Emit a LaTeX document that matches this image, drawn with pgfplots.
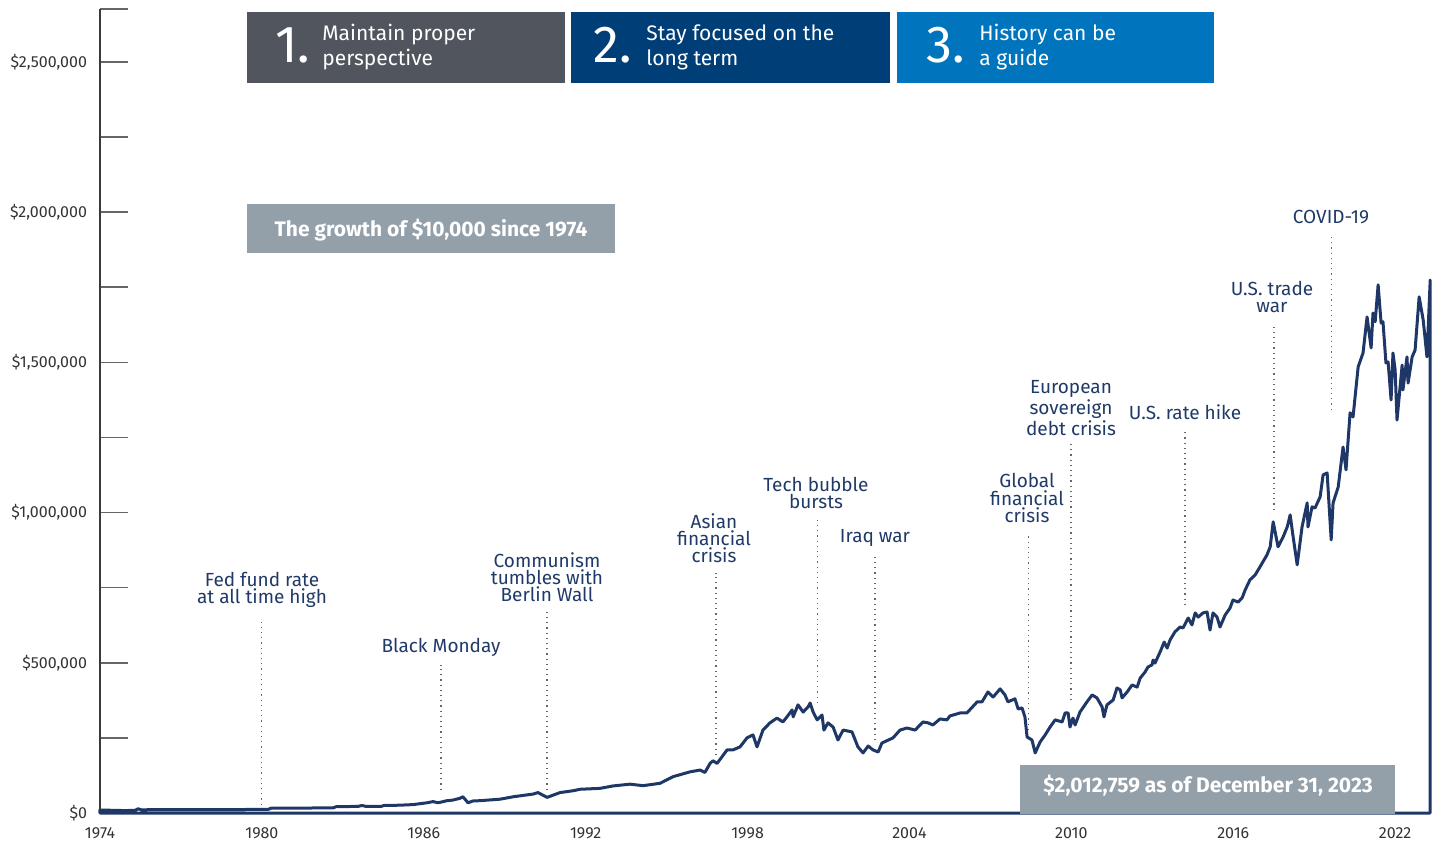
\documentclass[border=0pt]{standalone}
\usepackage{pgfplots}
\pgfplotsset{compat=1.18}
\usepackage{fontspec}
\setmainfont{Fira Sans}
\definecolor{navy}{HTML}{1E3767}
\definecolor{annot}{HTML}{1F3A68}
\definecolor{boxA}{HTML}{51555D}
\definecolor{boxB}{HTML}{003E78}
\definecolor{boxC}{HTML}{0074BC}
\definecolor{boxG}{HTML}{939FA9}
\definecolor{axgray}{HTML}{3A3A3A}
\definecolor{tickgray}{HTML}{666666}
\definecolor{labgray}{HTML}{333333}
\definecolor{dotgray}{HTML}{666666}
\begin{document}
\begin{tikzpicture}
\begin{scope}[x=0.5pt,y=-0.5pt]
\path[use as bounding box] (0,0) rectangle (1434,844);
\end{scope}
\begin{axis}[
  at={(50pt,-406.5pt)}, anchor=south west, scale only axis,
  width=665.5pt, height=402pt,
  xmin=1974, xmax=2023.33, ymin=0, ymax=2676000,
  clip=false,
  scaled y ticks=false, scaled x ticks=false,
  axis x line*=bottom, axis y line*=left,
  x axis line style={draw=none},
  y axis line style={draw=axgray, line width=1pt, -},
  tick align=inside,
  major tick length=14pt,
  ytick={0,250000,500000,750000,1000000,1250000,1500000,1750000,2000000,2250000,2500000,2676000},
  yticklabels={{\$0},{},{\$500,000},{},{\$1,000,000},{},{\$1,500,000},{},{\$2,000,000},{},{\$2,500,000},{}},
  ytick style={draw=tickgray, line width=0.75pt},
  yticklabel style={font=\fontsize{8}{9}\selectfont, text=labgray, xshift=-3pt},
  xtick={1974,1980,1986,1992,1998,2004,2010,2016,2022},
  xticklabels={1974,1980,1986,1992,1998,2004,2010,2016,2022},
  xtick style={draw=none},
  xticklabel style={font=\fontsize{8}{9}\selectfont, text=labgray, yshift=-4pt},
]
\addplot[navy, line width=1.5pt, line join=round, mark=none] coordinates {
(1974.00,10000) (1974.93,8000) (1975.30,9000) (1975.41,14000) (1975.56,10000)
(1975.78,11000) (1977.70,11000) (1980.23,12000) (1980.34,16000) (1982.64,17000)
(1982.75,21000) (1983.56,22000) (1983.71,25000) (1983.86,22000) (1984.42,22000)
(1984.53,25000) (1985.12,26000) (1985.60,28000) (1986.12,34000) (1986.34,38000)
(1986.53,34000) (1986.86,41000) (1987.08,43000) (1987.34,49000) (1987.45,54000)
(1987.64,34000) (1987.82,40000) (1988.08,41000) (1988.83,46000) (1989.31,54000)
(1990.05,63000) (1990.23,68000) (1990.57,52000) (1991.05,68000) (1991.53,74000)
(1991.79,79000) (1992.53,82000) (1993.01,90000) (1993.64,96000) (1994.13,91000)
(1994.76,99000) (1995.24,121000) (1995.87,137000) (1996.24,143000) (1996.42,135000)
(1996.61,165000) (1996.72,174000) (1996.87,165000) (1997.24,210000) (1997.46,210000)
(1997.72,220000) (1997.98,250000) (1998.20,260000) (1998.35,220000) (1998.57,276000)
(1998.83,300000) (1999.09,316000) (1999.31,303000) (1999.46,320000) (1999.65,343000)
(1999.69,320000) (1999.87,360000) (2000.06,336000) (2000.24,353000) (2000.32,366000)
(2000.43,336000) (2000.58,310000) (2000.76,326000) (2000.83,276000) (2000.98,300000)
(2001.17,286000) (2001.35,243000) (2001.54,276000) (2001.87,270000) (2002.09,220000)
(2002.28,200000) (2002.47,223000) (2002.65,210000) (2002.84,203000) (2002.98,233000)
(2003.39,250000) (2003.65,276000) (2003.91,283000) (2004.21,276000) (2004.50,303000)
(2004.69,300000) (2004.87,293000) (2005.13,313000) (2005.39,310000) (2005.50,323000)
(2005.88,333000) (2006.13,333000) (2006.51,370000) (2006.69,370000) (2006.91,403000)
(2007.10,386000) (2007.36,413000) (2007.54,393000) (2007.65,370000) (2007.91,380000)
(2008.03,346000) (2008.17,350000) (2008.28,320000) (2008.36,253000) (2008.54,243000)
(2008.66,200000) (2008.84,236000) (2009.03,260000) (2009.21,286000) (2009.40,310000)
(2009.66,303000) (2009.77,333000) (2009.88,333000) (2009.95,286000) (2010.06,316000)
(2010.14,293000) (2010.32,336000) (2010.58,370000) (2010.77,393000) (2010.95,383000)
(2011.14,353000) (2011.21,320000) (2011.32,360000) (2011.55,376000) (2011.69,416000)
(2011.81,410000) (2011.88,383000) (2012.07,403000) (2012.25,426000) (2012.44,419000)
(2012.55,449000) (2012.73,469000) (2012.84,486000) (2012.99,493000) (2013.03,509000)
(2013.10,499000) (2013.29,536000) (2013.44,569000) (2013.55,549000) (2013.66,576000)
(2013.84,603000) (2014.03,619000) (2014.14,616000) (2014.33,649000) (2014.47,626000)
(2014.59,666000) (2014.70,652000) (2014.88,666000) (2015.03,669000) (2015.14,609000)
(2015.25,666000) (2015.40,652000) (2015.51,619000) (2015.70,659000) (2015.88,682000)
(2015.99,709000) (2016.18,702000) (2016.33,716000) (2016.44,742000) (2016.62,776000)
(2016.81,792000) (2016.99,819000) (2017.25,859000) (2017.37,886000) (2017.48,969000)
(2017.66,886000) (2017.85,919000) (2018.00,952000) (2018.11,992000) (2018.22,919000)
(2018.37,826000) (2018.55,952000) (2018.74,1032000) (2018.77,952000) (2018.92,1019000)
(2019.03,1015000) (2019.22,1052000) (2019.33,1125000) (2019.48,1132000) (2019.63,909000)
(2019.70,1032000) (2019.89,1085000) (2020.07,1218000) (2020.18,1142000) (2020.33,1332000)
(2020.44,1318000) (2020.63,1485000) (2020.81,1531000) (2020.96,1651000) (2021.11,1548000)
(2021.18,1664000) (2021.26,1635000) (2021.37,1758000) (2021.48,1631000) (2021.55,1635000)
(2021.66,1498000) (2021.74,1501000) (2021.85,1375000) (2021.92,1531000) (2022.00,1475000)
(2022.07,1308000) (2022.26,1491000) (2022.29,1408000) (2022.44,1518000) (2022.48,1431000)
(2022.63,1518000) (2022.74,1541000) (2022.89,1718000) (2023.04,1641000) (2023.18,1518000)
(2023.30,1774000)
} \closedcycle;
% event markers
\draw[dotgray, line width=0.6pt, dotted] (axis cs:1980.00,27000) -- (axis cs:1980.00,649000);
\draw[dotgray, line width=0.6pt, dotted] (axis cs:1986.64,77000) -- (axis cs:1986.64,493000);
\draw[dotgray, line width=0.6pt, dotted] (axis cs:1990.57,77000) -- (axis cs:1990.57,669000);
\draw[dotgray, line width=0.6pt, dotted] (axis cs:1996.83,193000) -- (axis cs:1996.83,799000);
\draw[dotgray, line width=0.6pt, dotted] (axis cs:2000.58,366000) -- (axis cs:2000.58,975000);
\draw[dotgray, line width=0.6pt, dotted] (axis cs:2002.72,243000) -- (axis cs:2002.72,859000);
\draw[dotgray, line width=0.6pt, dotted] (axis cs:2008.40,276000) -- (axis cs:2008.40,932000);
\draw[dotgray, line width=0.6pt, dotted] (axis cs:2009.99,376000) -- (axis cs:2009.99,1235000);
\draw[dotgray, line width=0.6pt, dotted] (axis cs:2014.21,692000) -- (axis cs:2014.21,1275000);
\draw[dotgray, line width=0.6pt, dotted] (axis cs:2017.51,1009000) -- (axis cs:2017.51,1625000);
\draw[dotgray, line width=0.6pt, dotted] (axis cs:2019.63,1342000) -- (axis cs:2019.63,1924000);
\end{axis}
\begin{scope}[x=0.5pt,y=-0.5pt]
% event labels
\tikzset{ev/.style={text=annot, align=center, inner sep=0pt, anchor=center, font=\fontsize{9.5}{8.6}\selectfont}}
\node[ev] at (262,590) {Fed fund rate\\at all time high};
\node[ev] at (441,647) {Black Monday};
\node[ev] at (547,577) {Communism\\tumbles with\\Berlin Wall};
\node[ev] at (714,538) {Asian\\financial\\crisis};
\node[ev] at (816,493) {Tech bubble\\bursts};
\node[ev] at (875,538) {Iraq war};
\node[ev] at (1027,498) {Global\\financial\\crisis};
\node[ev] at (1071,408) {European\\sovereign\\debt crisis};
\node[ev] at (1185,412) {U.S. rate hike};
\node[ev] at (1272,297) {U.S. trade\\war};
\node[ev] at (1331,217) {COVID-19};
% header boxes
\fill[boxA] (247,12) rectangle (565,83);
\fill[boxB] (571,12) rectangle (890,83);
\fill[boxC] (897,12) rectangle (1214,83);
\tikzset{num/.style={text=white, inner sep=0pt, anchor=base west, font=\fontsize{26}{26}\selectfont},
         ht/.style={text=white, inner sep=0pt, anchor=base west, align=left, font=\fontsize{10.5}{12.5}\selectfont}}
\node[num] at (275,63) {1.};
\node[ht] at (322,66) {Maintain proper\\perspective};
\node[num] at (593,63) {2.};
\node[ht] at (646,66) {Stay focused on the\\long term};
\node[num] at (926,63) {3.};
\node[ht] at (979,66) {History can be\\a guide};
% grey boxes
\fill[boxG] (247,204) rectangle (615,253);
\node[text=white, inner sep=0pt, font=\fontsize{10.5}{12}\selectfont\bfseries] at (431,230) {The growth of \$10,000 since 1974};
\fill[boxG] (1020,765) rectangle (1395,814);
\node[text=white, inner sep=0pt, font=\fontsize{10.5}{12}\selectfont\bfseries] at (1208,786) {\$2,012,759 as of December 31, 2023};
\end{scope}
\end{tikzpicture}
\end{document}
